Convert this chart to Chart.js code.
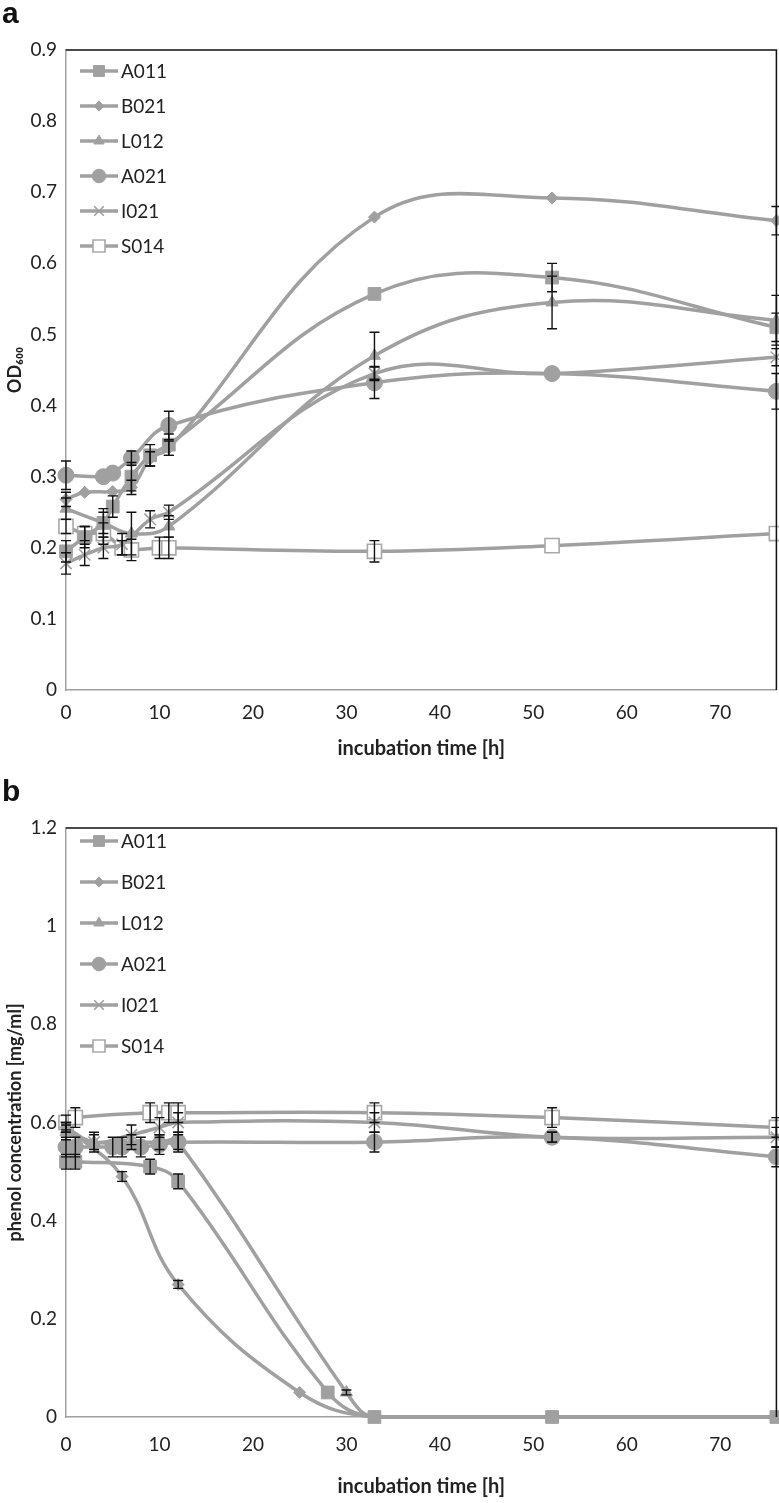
<!DOCTYPE html>
<html>
<head>
<meta charset="utf-8">
<script src="https://cdn.jsdelivr.net/npm/chart.js@4.4.1/dist/chart.umd.min.js"></script>
<style>
  html,body{margin:0;padding:0;background:#fff;}
  body{width:779px;height:1503px;position:relative;overflow:hidden;font-family:Lato,"Open Sans",sans-serif;}
  .wrap{position:absolute;left:0;width:788px;}
  .letter{position:absolute;left:2px;font-family:"Liberation Sans",Arial,sans-serif;font-weight:bold;font-size:30px;color:#111;z-index:2;}
</style>
</head>
<body>
<div class="wrap" style="top:0;height:770px;"><canvas id="ca" width="788" height="770"></canvas></div>
<div class="wrap" style="top:778px;height:725px;"><canvas id="cb" width="788" height="725"></canvas></div>
<div class="letter" style="top:-4px;">a</div>
<div class="letter" style="top:774px;">b</div>
<script>
// ---------- Panel a : OD600 ----------
const seriesNames = ["A011","B021","L012","A021","I021","S014"];

const a_A011_t = [0, 2, 4, 5, 7, 9, 11, 33, 52, 76];
const a_A011_v = [0.195, 0.215, 0.235, 0.258, 0.30, 0.33, 0.345, 0.557, 0.58, 0.51];
const a_A011_e = [0.015, 0.015, 0.015, 0.015, 0.02, 0.015, 0.015, 0, 0.02, 0.02];

const a_B021_t = [0, 2, 5, 7, 9, 11, 33, 52, 76];
const a_B021_v = [0.268, 0.278, 0.279, 0.285, 0.325, 0.34, 0.665, 0.692, 0.66];
const a_B021_e = [0.01, 0, 0, 0.01, 0.01, 0.01, 0, 0, 0.02];

const a_L012_t = [0, 4, 7, 11, 33, 52, 76];
const a_L012_v = [0.255, 0.235, 0.22, 0.23, 0.47, 0.545, 0.52];
const a_L012_e = [0.015, 0.02, 0.03, 0.015, 0.033, 0.037, 0.035];

const a_A021_t = [0, 4, 5, 7, 11, 33, 52, 76];
const a_A021_v = [0.302, 0.30, 0.305, 0.326, 0.372, 0.432, 0.445, 0.42];
const a_A021_e = [0.02, 0, 0, 0.01, 0.02, 0.022, 0, 0.025];

const a_I021_t = [0, 2, 4, 6, 9, 11, 33, 52, 76];
const a_I021_v = [0.178, 0.19, 0.2, 0.205, 0.24, 0.25, 0.445, 0.445, 0.468];
const a_I021_e = [0.015, 0.015, 0.015, 0.015, 0.012, 0.01, 0.01, 0, 0.012];

const a_S014_t = [0, 2, 4, 6, 7, 10, 11, 33, 52, 76];
const a_S014_v = [0.23, 0.22, 0.22, 0.2, 0.197, 0.2, 0.2, 0.195, 0.203, 0.22];
const a_S014_e = [0.01, 0.01, 0.015, 0.01, 0.015, 0.015, 0.015, 0.015, 0, 0];

const a_yTicks = [0, 0.1, 0.2, 0.3, 0.4, 0.5, 0.6, 0.7, 0.8, 0.9];

// ---------- Panel b : phenol concentration ----------
const b_A011_t = [0, 1, 9, 12, 28, 33, 52, 76];
const b_A011_v = [0.52, 0.52, 0.51, 0.48, 0.05, 0, 0, 0];
const b_A011_e = [0.015, 0.015, 0.015, 0.015, 0, 0, 0, 0];

const b_B021_t = [0, 6, 12, 25, 33, 52, 76];
const b_B021_v = [0.59, 0.49, 0.27, 0.05, 0, 0, 0];
const b_B021_e = [0.01, 0.01, 0.008, 0, 0, 0, 0];

const b_L012_t = [0, 3, 7, 10, 12, 30, 33, 52, 76];
const b_L012_v = [0.58, 0.56, 0.56, 0.56, 0.56, 0.05, 0, 0, 0];
const b_L012_e = [0.015, 0.015, 0.015, 0.015, 0.015, 0.005, 0, 0, 0];

const b_A021_t = [0, 1, 5, 6, 8, 10, 12, 33, 52, 76];
const b_A021_v = [0.55, 0.55, 0.55, 0.55, 0.55, 0.555, 0.56, 0.56, 0.57, 0.53];
const b_A021_e = [0.02, 0.02, 0.02, 0.02, 0.02, 0.02, 0.02, 0.02, 0.01, 0.02];

const b_I021_t = [0, 3, 7, 10, 12, 33, 52, 76];
const b_I021_v = [0.59, 0.56, 0.575, 0.59, 0.60, 0.60, 0.57, 0.57];
const b_I021_e = [0.01, 0.02, 0.02, 0.02, 0.02, 0.02, 0.01, 0.02];

const b_S014_t = [0, 1, 9, 11, 12, 33, 52, 76];
const b_S014_v = [0.60, 0.61, 0.62, 0.62, 0.62, 0.62, 0.61, 0.59];
const b_S014_e = [0.015, 0.02, 0.02, 0.02, 0.02, 0.02, 0.02, 0.02];

const b_yTicks = [0, 0.2, 0.4, 0.6, 0.8, 1, 1.2];
const xTicks = [0, 10, 20, 30, 40, 50, 60, 70];

// ---------- styling ----------
const LINE = '#a0a0a0';
const FONT = 'Lato, "Open Sans", sans-serif';
const styles = [
  {pointStyle:'rect',    radius:9,  fill:LINE,   border:LINE,   bw:1},
  {pointStyle:'rectRot', radius:6,  fill:LINE,   border:LINE,   bw:1},
  {pointStyle:'triangle',radius:7,  fill:LINE,   border:LINE,   bw:1},
  {pointStyle:'circle',  radius:8,  fill:LINE,   border:LINE,   bw:1},
  {pointStyle:'crossRot',radius:8,  fill:LINE,   border:LINE,   bw:1.6},
  {pointStyle:'rect',    radius:10, fill:'#ffffff', border:'#a8a8a8', bw:1.6}
];

function build(ts, vs, es, i) {
  const st = styles[i];
  return {
    label: seriesNames[i],
    data: ts.map((t, k) => ({x: t, y: vs[k]})),
    errs: es,
    borderColor: LINE,
    borderWidth: 3.5,
    tension: 0.4,
    fill: false,
    clip: false,
    pointStyle: st.pointStyle,
    pointRadius: st.radius,
    pointBackgroundColor: st.fill,
    pointBorderColor: st.border,
    pointBorderWidth: st.bw
  };
}

const errorBars = {
  id: 'errorBars',
  afterDatasetsDraw(chart) {
    const ctx = chart.ctx, xs = chart.scales.x, ys = chart.scales.y;
    ctx.save();
    ctx.strokeStyle = '#111';
    ctx.lineWidth = 1.4;
    chart.data.datasets.forEach(ds => {
      ds.data.forEach((p, k) => {
        const e = ds.errs[k];
        if (!e) return;
        const px = xs.getPixelForValue(p.x);
        const y1 = ys.getPixelForValue(p.y + e), y2 = ys.getPixelForValue(p.y - e);
        ctx.beginPath();
        ctx.moveTo(px, y1); ctx.lineTo(px, y2);
        ctx.moveTo(px - 5, y1); ctx.lineTo(px + 5, y1);
        ctx.moveTo(px - 5, y2); ctx.lineTo(px + 5, y2);
        ctx.stroke();
      });
    });
    ctx.restore();
  }
};

const frame = {
  id: 'frame',
  afterDraw(chart) {
    const {ctx, chartArea:a} = chart;
    ctx.save();
    ctx.strokeStyle = '#111';
    ctx.lineWidth = 1.5;
    ctx.beginPath();
    ctx.moveTo(a.left, a.top); ctx.lineTo(a.right, a.top); ctx.lineTo(a.right, a.bottom);
    ctx.stroke();
    ctx.restore();
  }
};

const insideLegend = {
  id: 'insideLegend',
  afterDraw(chart, args, opts) {
    const {ctx, chartArea:a} = chart;
    ctx.save();
    ctx.font = '19px ' + FONT;
    ctx.textBaseline = 'middle';
    chart.data.datasets.forEach((ds, i) => {
      const y = a.top + opts.first + i * opts.gap;
      const x0 = a.left + 14, x1 = a.left + 52;
      ctx.strokeStyle = LINE; ctx.lineWidth = 3.5;
      ctx.beginPath(); ctx.moveTo(x0, y); ctx.lineTo(x1, y); ctx.stroke();
      const st = styles[i];
      ctx.fillStyle = st.fill; ctx.strokeStyle = st.border; ctx.lineWidth = st.bw;
      Chart.helpers.drawPoint(ctx, {pointStyle: st.pointStyle, radius: st.radius * 0.85, borderWidth: st.bw}, (x0 + x1) / 2, y);
      ctx.fillStyle = '#222';
      ctx.fillText(ds.label, x1 + 3, y + 1);
    });
    ctx.restore();
  }
};

function makeChart(id, datasets, yMax, yTicks, yTitle, padTop, padBottom, xAxisH, xTickPad, legFirst, legGap) {
  return new Chart(document.getElementById(id), {
    type: 'line',
    data: {datasets},
    options: {
      responsive: false,
      animation: false,
      layout: {padding: {top: padTop, right: 0, left: 0, bottom: padBottom}},
      plugins: {
        legend: {display: false},
        tooltip: {enabled: false},
        insideLegend: {first: legFirst, gap: legGap}
      },
      scales: {
        x: {
          type: 'linear', min: 0, max: 76,
          afterFit(s) { s.height = xAxisH; },
          afterBuildTicks(s) { s.ticks = xTicks.map(v => ({value: v})); },
          grid: {display: false, drawTicks: false},
          border: {display: true, color: LINE, width: 1.5},
          ticks: {color: '#222', font: {size: 19, family: FONT}, padding: xTickPad,
                  callback: v => String(v)},
          title: {display: true, text: 'incubation time [h]', color: '#222',
                  font: {size: 20, weight: 'bold', family: FONT}, padding: {top: 6}}
        },
        y: {
          min: 0, max: yMax,
          afterFit(s) { s.width = 66; },
          afterBuildTicks(s) { s.ticks = yTicks.map(v => ({value: v})); },
          grid: {display: false, drawTicks: false},
          border: {display: true, color: LINE, width: 1.5},
          ticks: {color: '#222', font: {size: 19, family: FONT}, padding: 9,
                  callback: v => String(v)},
          title: {display: true, text: yTitle, color: '#222',
                  font: {size: 18, weight: 'bold', family: FONT}, padding: {bottom: 0}}
        }
      }
    },
    plugins: [errorBars, frame, insideLegend]
  });
}

makeChart('ca', [
  build(a_A011_t, a_A011_v, a_A011_e, 0),
  build(a_B021_t, a_B021_v, a_B021_e, 1),
  build(a_L012_t, a_L012_v, a_L012_e, 2),
  build(a_A021_t, a_A021_v, a_A021_e, 3),
  build(a_I021_t, a_I021_v, a_I021_e, 4),
  build(a_S014_t, a_S014_v, a_S014_e, 5)
], 0.9, a_yTicks, 'OD\u2086\u2080\u2080', 50, 5, 75, 11, 21, 35);

makeChart('cb', [
  build(b_A011_t, b_A011_v, b_A011_e, 0),
  build(b_B021_t, b_B021_v, b_B021_e, 1),
  build(b_L012_t, b_L012_v, b_L012_e, 2),
  build(b_A021_t, b_A021_v, b_A021_e, 3),
  build(b_I021_t, b_I021_v, b_I021_e, 4),
  build(b_S014_t, b_S014_v, b_S014_e, 5)
], 1.2, b_yTicks, 'phenol concentration [mg/ml]', 50, 0, 86, 16, 13, 41);
</script>
</body>
</html>
